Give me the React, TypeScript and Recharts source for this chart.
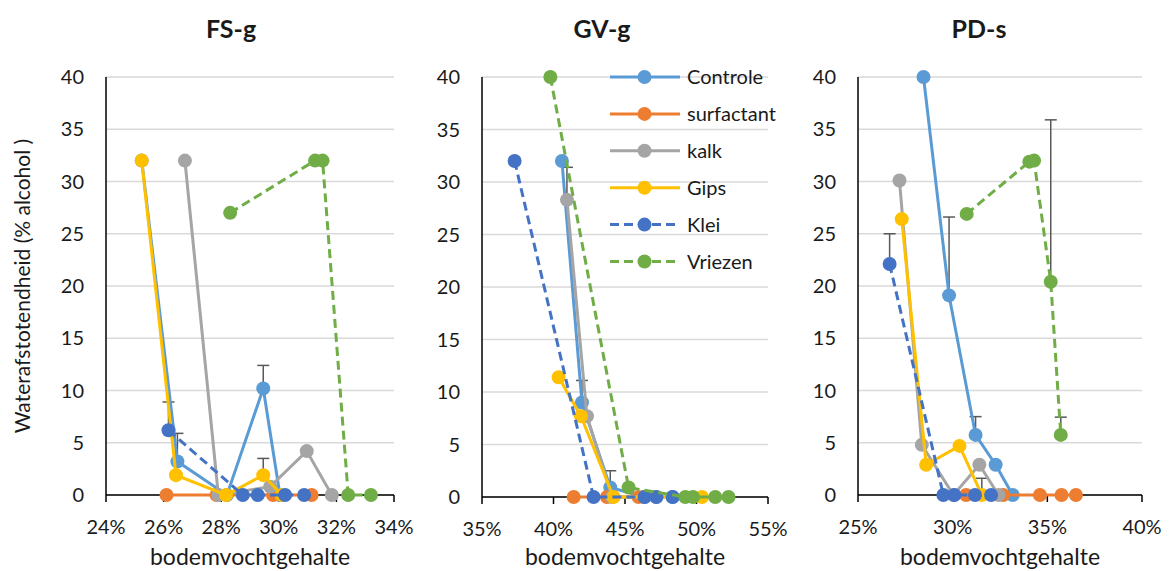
import { ScatterChart, Scatter, XAxis, YAxis, CartesianGrid, Legend } from 'recharts';

// [x (% moisture), y (% alcohol), optional + error]
type Pt = [number, number, number?];

const SERIES = ['Controle', 'surfactant', 'kalk', 'Gips', 'Klei', 'Vriezen'];
const COLORS = ['#5B9BD5', '#ED7D31', '#A5A5A5', '#FFC000', '#4472C4', '#70AD47'];
const DASHED = [false, false, false, false, true, true];

const Y_TICKS = [0, 5, 10, 15, 20, 25, 30, 35, 40];

// FS-g
const FS_TICKS = [24, 26, 28, 30, 32, 34];
const fsControle: Pt[] = [[25.24, 32], [26.48, 3.2, 2.7], [28.2, 0], [29.46, 10.2, 2.2], [30.04, 0]];
const fsSurfactant: Pt[] = [[26.1, 0], [27.84, 0], [29.8, 0], [31.14, 0]];
const fsKalk: Pt[] = [[26.74, 32], [27.9, 0], [29.7, 0.8], [30.97, 4.2], [31.84, 0]];
const fsGips: Pt[] = [[25.24, 32], [26.43, 1.9], [28.17, 0], [29.46, 1.9, 1.6], [30.1, 0]];
const fsKlei: Pt[] = [[26.17, 6.2, 2.7], [28.75, 0], [29.27, 0], [30.22, 0], [30.88, 0]];
const fsVriezen: Pt[] = [[28.31, 27], [31.26, 32], [31.52, 32], [32.41, 0], [33.2, 0]];

// GV-g
const GV_TICKS = [35, 40, 45, 50, 55];
const gvControle: Pt[] = [[40.59, 32], [41.99, 9.0, 2.1], [43.97, 0.9, 1.6], [46.37, 0], [48.33, 0]];
const gvSurfactant: Pt[] = [[41.41, 0], [43.74, 0], [45.95, 0]];
const gvKalk: Pt[] = [[40.94, 28.3, 3.1], [42.34, 7.7], [44.1, 0], [47.19, 0]];
const gvGips: Pt[] = [[40.36, 11.4], [41.92, 7.7], [44.2, 0], [50.38, 0]];
const gvKlei: Pt[] = [[37.28, 32], [42.8, 0], [46.37, 0], [47.19, 0], [48.33, 0]];
const gvVriezen: Pt[] = [[39.78, 40], [45.25, 0.9], [49.22, 0], [49.76, 0], [51.31, 0], [52.24, 0]];

// PD-s
const PD_TICKS = [25, 30, 35, 40];
const pdControle: Pt[] = [[28.46, 40], [29.81, 19.1, 7.5], [31.21, 5.75, 1.75], [32.27, 2.9], [33.17, 0]];
const pdSurfactant: Pt[] = [[30.71, 0], [32.67, 0], [34.61, 0], [35.75, 0], [36.51, 0]];
const pdKalk: Pt[] = [[27.19, 30.1], [28.37, 4.8], [30.04, 0], [31.41, 2.9], [32.42, 0]];
const pdGips: Pt[] = [[27.31, 26.4], [28.6, 2.9], [30.36, 4.7], [31.54, 0, 1.6]];
const pdKlei: Pt[] = [[26.67, 22.1, 2.9], [29.51, 0], [30.09, 0], [31.18, 0], [32.03, 0]];
const pdVriezen: Pt[] = [[30.74, 26.9], [34.05, 31.9], [34.3, 32], [35.18, 20.4, 15.5], [35.71, 5.75, 1.7]];

const TEXT = '#1a1a1a';
const ERR = '#595959';
const FONT = 'Lato, "Noto Sans", sans-serif';

const toRows = (pts: Pt[]) => pts.map(([x, y]) => ({ x, y }));

// one little two-point series per plus-only error bar: from the value up to value + error
const errorSegments = (series: Pt[][]) =>
  series.flatMap((pts) =>
    pts
      .filter((p) => p[2] !== undefined)
      .map(([x, y, e]) => [
        { x, y, cap: false },
        { x, y: y + (e as number), cap: true },
      ])
  );

const dash = (i: number) => (DASHED[i] ? '9 5' : undefined);

function YTitle() {
  return (
    <text
      x={0}
      y={0}
      transform="translate(30,286) rotate(-90)"
      textAnchor="middle"
      fontSize={21}
      fill={TEXT}
    >
      Waterafstotendheid (% alcohol )
    </text>
  );
}

function LegendBox() {
  return (
    <svg width={185} height={205} style={{ overflow: 'visible' }}>
      {SERIES.map((name, i) => {
        const cy = 8 + i * 36.9;
        return (
          <g key={name}>
            <line x1={0} x2={70} y1={cy} y2={cy} stroke={COLORS[i]} strokeWidth={3} strokeDasharray={dash(i)} />
            <circle cx={34.5} cy={cy} r={7} fill={COLORS[i]} />
            <text x={77} y={cy} dy="0.36em" fontSize={20} fill={TEXT}>{name}</text>
          </g>
        );
      })}
    </svg>
  );
}

type PanelProps = {
  title: string;
  titleX: number;
  left: number;
  width: number;
  yWidth: number;
  right: number;
  xHeight: number;
  domain: [number, number];
  ticks: number[];
  series: Pt[][];
  legend?: boolean;
  yTitle?: boolean;
};

function Panel({ title, titleX, left, width, yWidth, right, xHeight, domain, ticks, series, legend, yTitle }: PanelProps) {
  return (
    <>
      <div
        style={{
          position: 'absolute', left: titleX - 60, top: 13, width: 120, height: 30,
          lineHeight: '30px', textAlign: 'center', fontWeight: 700, fontSize: 25, color: TEXT,
        }}
      >
        {title}
      </div>
      <div style={{ position: 'absolute', left, top: 0 }}>
        <ScatterChart width={width} height={571} margin={{ top: 77, right, bottom: 0, left: 0 }}>
          <CartesianGrid horizontal vertical={false} stroke="#D9D9D9" strokeWidth={1.5} />
          <XAxis
            type="number"
            dataKey="x"
            domain={domain}
            ticks={ticks}
            interval={0}
            height={xHeight}
            tickFormatter={(v) => `${v}%`}
            tick={{ fill: TEXT, fontSize: 20 }}
            tickSize={7}
            tickMargin={18}
            tickLine={{ stroke: '#000', strokeWidth: 1.5 }}
            axisLine={{ stroke: '#000', strokeWidth: 1.5 }}
            label={{ value: 'bodemvochtgehalte', position: 'insideBottom', offset: 6, fontSize: 23, fill: TEXT }}
          />
          <YAxis
            type="number"
            dataKey="y"
            domain={[0, 40]}
            ticks={Y_TICKS}
            interval={0}
            width={yWidth}
            tick={{ fill: TEXT, fontSize: 20 }}
            tickLine={false}
            tickSize={0}
            tickMargin={22}
            axisLine={{ stroke: '#000', strokeWidth: 1.5 }}
            label={yTitle ? <YTitle /> : undefined}
          />
          {/* error bars first, so the markers cover their lower ends */}
          {errorSegments(series).map((seg, k) => (
            <Scatter
              key={`err-${k}`}
              data={seg}
              fill={ERR}
              legendType="none"
              isAnimationActive={false}
              line={{ stroke: ERR, strokeWidth: 1.5 }}
              lineType="joint"
              shape={(p: any) =>
                p.payload.cap ? (
                  <line x1={p.cx - 6} x2={p.cx + 6} y1={p.cy} y2={p.cy} stroke={ERR} strokeWidth={1.5} />
                ) : (
                  <g />
                )
              }
            />
          ))}
          {series.map((pts, i) => (
            <Scatter
              key={SERIES[i]}
              name={SERIES[i]}
              data={toRows(pts)}
              fill={COLORS[i]}
              isAnimationActive={false}
              line={{ stroke: COLORS[i], strokeWidth: 3, strokeDasharray: dash(i) }}
              lineType="joint"
              shape={(p: any) => <circle cx={p.cx} cy={p.cy} r={7} fill={COLORS[i]} />}
            />
          ))}
          {legend && (
            <Legend
              layout="vertical"
              align="center"
              verticalAlign="middle"
              wrapperStyle={{ left: 205, top: 69, width: 185, height: 205 }}
              content={() => <LegendBox />}
            />
          )}
        </ScatterChart>
      </div>
    </>
  );
}

export default function App() {
  return (
    <div
      style={{
        position: 'absolute', left: 0, top: 0, width: 1169, height: 571,
        background: '#fff', fontFamily: FONT, overflow: 'hidden',
      }}
    >
      <style>{'.recharts-surface { overflow: visible; }'}</style>
      <Panel
        title="FS-g" titleX={231} left={0} width={405} yWidth={106} right={11} xHeight={76}
        domain={[24, 34]} ticks={FS_TICKS} yTitle
        series={[fsControle, fsSurfactant, fsKalk, fsGips, fsKlei, fsVriezen]}
      />
      <Panel
        title="GV-g" titleX={602} left={405} width={375} yWidth={77} right={12} xHeight={74}
        domain={[35, 55]} ticks={GV_TICKS} legend
        series={[gvControle, gvSurfactant, gvKalk, gvGips, gvKlei, gvVriezen]}
      />
      <Panel
        title="PD-s" titleX={979} left={780} width={389} yWidth={78} right={27} xHeight={76}
        domain={[25, 40]} ticks={PD_TICKS}
        series={[pdControle, pdSurfactant, pdKalk, pdGips, pdKlei, pdVriezen]}
      />
    </div>
  );
}
